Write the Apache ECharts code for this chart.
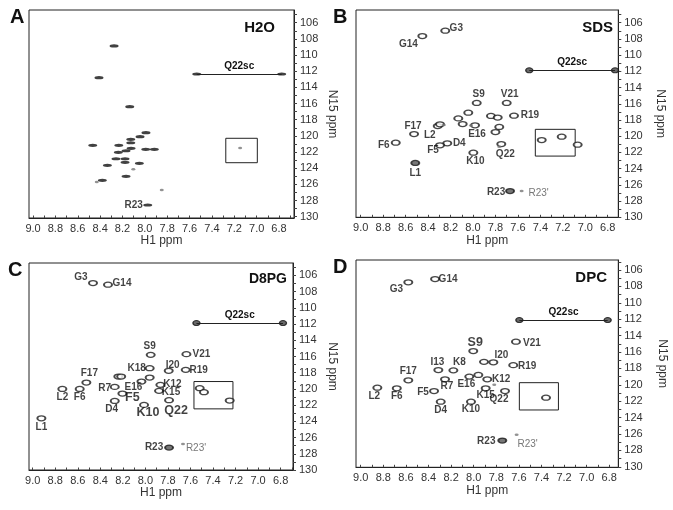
<!DOCTYPE html>
<html><head><meta charset="utf-8">
<script src="https://cdn.jsdelivr.net/npm/echarts@6/dist/echarts.min.js"></script>
<style>html,body{margin:0;padding:0;background:#fff}#c{width:673px;height:510px}</style>
</head><body><div id="c"></div><script>
// ---- tick labels ----
const xTicks = [9.0, 8.8, 8.6, 8.4, 8.2, 8.0, 7.8, 7.6, 7.4, 7.2, 7.0, 6.8];
const xMinorTicks = [9.0, 8.9, 8.8, 8.7, 8.6, 8.5, 8.4, 8.3, 8.2, 8.1, 8.0, 7.9, 7.8, 7.7, 7.6, 7.5, 7.4, 7.3, 7.2, 7.1, 7.0, 6.9, 6.8, 6.7];
const yTicks = [106, 108, 110, 112, 114, 116, 118, 120, 122, 124, 126, 128, 130];
const yMinorTicks = [105, 106, 107, 108, 109, 110, 111, 112, 113, 114, 115, 116, 117, 118, 119, 120, 121, 122, 123, 124, 125, 126, 127, 128, 129, 130];

// ---- panel A : H2O  [H1 ppm, N15 ppm, label] ----
const peaksA = [
  [8.275, 108.88, ''], [8.41, 112.8, ''], [8.135, 116.39, ''], [7.99, 119.6, ''], [8.043, 120.1, ''],
  [8.126, 120.43, ''], [8.126, 120.85, ''], [8.466, 121.17, ''], [8.233, 121.17, ''], [8.123, 121.54, ''],
  [8.168, 121.84, ''], [7.992, 121.67, ''], [7.915, 121.67, ''], [8.237, 122.03, ''], [8.258, 122.83, ''],
  [8.177, 122.83, ''], [8.177, 123.27, ''], [8.049, 123.4, ''], [8.335, 123.64, ''], [8.168, 125.0, ''],
  [8.38, 125.5, ''], [7.974, 128.55, 'R23']
];
const weakA = [[8.103, 124.14, ''], [8.43, 125.7, ''], [7.849, 126.7, ''], [7.148, 121.5, '']];
const q22scA = [7.536, 6.776, 112.35];   // side-chain pair: H1 start, H1 end, N15
const boxA = [7.276, 6.994, 120.3, 123.32];

// ---- panel B : SDS ----
const peaksB = [
  [8.247, 106.98, 'G3'], [8.451, 107.64, 'G14'], [7.967, 115.9, 'S9'], [7.70, 115.9, 'V21'],
  [7.635, 117.47, 'R19'], [8.525, 119.73, 'F17'], [8.314, 118.74, 'L2'], [7.982, 118.65, 'E16'],
  [8.688, 120.8, 'F6'], [8.229, 120.87, 'D4'], [8.294, 121.12, 'F5'], [7.997, 122.03, 'K10'],
  [7.748, 120.96, 'Q22'], [8.514, 123.3, 'L1'], [7.67, 126.76, 'R23'],
  [8.042, 117.1, ''], [8.131, 117.8, ''], [7.84, 117.5, ''], [7.78, 117.7, ''], [8.092, 118.5, ''],
  [8.294, 118.53, ''], [7.766, 118.86, ''], [7.80, 119.48, ''], [7.388, 120.47, ''], [7.21, 120.06, ''],
  [7.068, 121.05, '']
];
const weakB = [[7.567, 126.76, "R23'"], [7.766, 121.3, ''], [8.018, 118.67, ''], [8.26, 118.6, '']];
const q22scB = [7.499, 6.735, 111.87];
const boxB = [7.445, 7.09, 119.15, 122.45];

// ---- panel C : D8PG ----
const peaksC = [
  [8.465, 106.94, 'G3'], [8.332, 107.15, 'G14'], [7.953, 115.8, 'S9'], [7.636, 115.71, 'V21'],
  [7.962, 117.44, 'K18'], [7.793, 117.77, 'I20'], [7.642, 117.65, 'R19'], [8.524, 119.21, 'F17'],
  [8.035, 119.09, 'E16'], [8.272, 119.75, 'R7'], [8.737, 120.0, 'L2'], [8.583, 120.0, 'F6'],
  [7.867, 119.5, 'K12'], [7.879, 120.24, 'K15'], [8.204, 120.57, 'F5'], [8.272, 121.48, 'D4'],
  [8.012, 121.97, 'K10'], [7.79, 121.39, 'Q22'], [8.923, 123.62, 'L1'], [7.79, 127.24, 'R23'],
  [8.24, 118.47, ''], [8.215, 118.47, ''], [7.962, 118.6, ''], [7.518, 119.91, ''], [7.48, 120.4, ''],
  [7.252, 121.43, '']
];
const weakC = [[7.666, 126.79, "R23'"]];
const q22scC = [7.547, 6.779, 111.88];
const boxC = [7.569, 7.223, 119.09, 122.46];

// ---- panel D : DPC ----
const peaksD = [
  [8.342, 107.1, 'G14'], [8.579, 107.5, 'G3'], [7.626, 114.74, 'V21'], [8.004, 115.88, 'S9'],
  [7.826, 117.26, 'I20'], [7.65, 117.6, 'R19'], [8.313, 118.2, 'I13'], [8.18, 118.24, 'K8'],
  [8.039, 119.0, 'E16'], [7.88, 119.33, 'K12'], [8.254, 119.33, 'R7'], [8.579, 119.45, 'F17'],
  [8.853, 120.35, 'L2'], [8.681, 120.43, 'F6'], [7.894, 120.43, 'K15'], [8.351, 120.76, 'F5'],
  [7.723, 120.76, 'Q22'], [8.292, 122.06, 'D4'], [8.024, 122.06, 'K10'], [7.747, 126.8, 'R23'],
  [7.909, 117.2, ''], [7.959, 118.8, ''], [7.36, 121.57, '']
];
const weakD = [[7.818, 120.0, ''], [7.62, 126.1, "R23'"]];
const q22scD = [7.596, 6.814, 112.1];
const boxD = [7.596, 7.25, 119.74, 123.07];

// ---- layout / style (not data) ----
const FONT = '"Liberation Sans", Arial, Helvetica, sans-serif';
const panels = [
  {peaks: peaksA, weak: weakA, q: q22scA, box: boxA, title: 'H2O', letter: 'A',
   grid: {left: 29, top: 10, width: 265, height: 208}, x: [6.666, 9.036], y: [104.43, 130.16],
   nameGap: 32, kind: 'dash', titleRight: 398, titleTop: 20, titleSize: 15, letterPos: [10, 7],
   off: {R23: [-14, 0]}, big: [], strong: []},
  {peaks: peaksB, weak: weakB, q: q22scB, box: boxB, title: 'SDS', letter: 'B',
   grid: {left: 356, top: 10, width: 262.3, height: 207.3}, x: [6.706, 9.042], y: [104.43, 130.0],
   nameGap: 36, kind: 'ring', titleRight: 60, titleTop: 20, titleSize: 15, letterPos: [333, 7],
   off: {G3: [11, -2], G14: [-14, 8], S9: [2, -9], V21: [3, -9], R19: [16, 0], F17: [-1, -8], L2: [-8, 9],
         E16: [2, 9], F6: [-12, 3], D4: [12, 0], F5: [-7, 5], K10: [2, 9], Q22: [4, 10], L1: [0, 10],
         R23: [-14, 1], "R23'": [17, 2]}, big: [], strong: ['L1', 'R23']},
  {peaks: peaksC, weak: weakC, q: q22scC, box: boxC, title: 'D8PG', letter: 'C',
   grid: {left: 29, top: 263, width: 264, height: 207}, x: [6.69, 9.033], y: [104.47, 130.0],
   nameGap: 33, kind: 'ring', titleRight: 386, titleTop: 272, titleSize: 14, letterPos: [8, 260],
   off: {G3: [-12, -6], G14: [14, -1], S9: [-1, -9], V21: [15, 0], K18: [-13, 0], I20: [4, -6], R19: [13, 0],
         F17: [3, -9], E16: [-8, 6], R7: [-10, 1], L2: [0, 8], F6: [0, 8], K12: [12, -1], K15: [12, 1],
         F5: [10, 4], D4: [-3, 8], K10: [4, 8], Q22: [7, 10], L1: [0, 9], R23: [-15, 0], "R23'": [13, 4]},
   big: ['F5', 'K10', 'Q22'], strong: ['R23']},
  {peaks: peaksD, weak: weakD, q: q22scD, box: boxD, title: 'DPC', letter: 'D',
   grid: {left: 356, top: 260, width: 262.3, height: 207.3}, x: [6.72, 9.042], y: [104.78, 130.06],
   nameGap: 38, kind: 'ring', titleRight: 66, titleTop: 270, titleSize: 15, letterPos: [333, 257],
   off: {G14: [13, 0], G3: [-12, 7], V21: [16, 2], S9: [2, -8], I20: [8, -7], R19: [14, 1], I13: [-1, -8],
         K8: [6, -8], E16: [-3, 8], K12: [14, 0], R7: [2, 7], F17: [0, -9], L2: [-3, 9], F6: [0, 8],
         K15: [0, 7], F5: [-11, 1], Q22: [-6, 8], D4: [0, 9], K10: [0, 8], R23: [-16, 1], "R23'": [11, 9]},
   big: ['S9'], strong: ['R23']}
];

const grids = [], xAxes = [], yAxes = [], series = [], titles = [];
panels.forEach((p, i) => {
  grids.push(Object.assign({show: true, borderColor: '#222', borderWidth: 1, backgroundColor: 'transparent'}, p.grid));
  xAxes.push({
    gridIndex: i, type: 'value', min: p.x[0], max: p.x[1], inverse: true,
    axisLine: {show: true, onZero: false, lineStyle: {color: '#222', width: 1}},
    axisTick: {show: true, inside: true, length: 2.5, customValues: xMinorTicks, lineStyle: {color: '#444'}},
    axisLabel: {customValues: xTicks, formatter: v => v.toFixed(1), fontSize: 11, color: '#333', margin: 5, fontFamily: FONT},
    splitLine: {show: false},
    name: 'H1 ppm', nameLocation: 'middle', nameGap: 17,
    nameTextStyle: {fontSize: 12, color: '#333', fontFamily: FONT}
  });
  yAxes.push({
    gridIndex: i, type: 'value', min: p.y[0], max: p.y[1], inverse: true, position: 'right',
    axisLine: {show: true, onZero: false, lineStyle: {color: '#222', width: 1}},
    axisTick: {show: true, inside: false, length: 3, customValues: yMinorTicks, lineStyle: {color: '#444'}},
    axisLabel: {customValues: yTicks, fontSize: 11, color: '#333', margin: 6, fontFamily: FONT},
    splitLine: {show: false},
    name: 'N15 ppm', nameLocation: 'middle', nameRotate: -90, nameGap: p.nameGap,
    nameTextStyle: {fontSize: 12, color: '#333', fontFamily: FONT}
  });
  const ring = p.kind === 'ring';
  series.push({
    type: 'scatter', xAxisIndex: i, yAxisIndex: i, silent: true, z: 3,
    symbol: 'circle', symbolSize: ring ? [8, 5] : [9, 3.2],
    itemStyle: ring ? {color: '#fff', borderColor: '#1a1a1a', borderWidth: 1.6} : {color: '#111', borderWidth: 0},
    label: {show: false, position: 'inside', color: '#111', fontWeight: 'bold', fontSize: 10, fontFamily: FONT},
    data: p.peaks.map(d => ({
      value: [d[0], d[1]], name: d[2],
      itemStyle: p.strong.includes(d[2]) ? {color: '#555'} : undefined,
      label: d[2] ? {show: true, formatter: d[2], offset: p.off[d[2]] || [0, 0],
                     fontSize: p.big.includes(d[2]) ? 12.5 : 10} : {show: false}
    })),
    markLine: {
      silent: true, symbol: ['none', 'none'], animation: false,
      lineStyle: {color: '#222', width: 1, type: 'solid'},
      label: {show: true, position: 'middle', formatter: 'Q22sc', color: '#111', fontWeight: 'bold',
              fontSize: 10, fontFamily: FONT, distance: 3},
      data: [[{coord: [p.q[0], p.q[2]]}, {coord: [p.q[1], p.q[2]]}]]
    },
    markArea: {
      silent: true, animation: false,
      itemStyle: {color: 'rgba(0,0,0,0)', borderColor: '#222', borderWidth: 1},
      data: [[{coord: [p.box[0], p.box[2]]}, {coord: [p.box[1], p.box[3]]}]]
    }
  });
  // Q22 side-chain pair (end points of the line)
  series.push({
    type: 'scatter', xAxisIndex: i, yAxisIndex: i, silent: true, z: 4,
    symbol: 'circle', symbolSize: ring ? [7, 5] : [9, 3.2],
    itemStyle: ring ? {color: '#444', borderColor: '#111', borderWidth: 1.2} : {color: '#111', borderWidth: 0},
    data: [[p.q[0], p.q[2]], [p.q[1], p.q[2]]]
  });
  series.push({
    type: 'scatter', xAxisIndex: i, yAxisIndex: i, silent: true, z: 3,
    symbol: 'circle', symbolSize: [4, 2.5],
    itemStyle: {color: '#777'},
    label: {show: false, position: 'inside', color: '#555', fontWeight: 'normal', fontSize: 10, fontFamily: FONT},
    data: p.weak.map(d => ({
      value: [d[0], d[1]], name: d[2],
      label: d[2] ? {show: true, formatter: d[2], offset: p.off[d[2]] || [0, 0]} : {show: false}
    }))
  });
  titles.push({text: p.letter, left: p.letterPos[0], top: p.letterPos[1], padding: 0,
               textStyle: {fontSize: 20, fontWeight: 'bold', color: '#111', fontFamily: FONT}});
  titles.push({text: p.title, right: p.titleRight, top: p.titleTop, padding: 0,
               textStyle: {fontSize: p.titleSize, fontWeight: 'bold', color: '#111', fontFamily: FONT}});
});

const chart = echarts.init(document.getElementById('c'), null, {renderer: 'canvas'});
chart.setOption({
  animation: false, backgroundColor: '#fff',
  title: titles, grid: grids, xAxis: xAxes, yAxis: yAxes, series: series
});
</script></body></html>
